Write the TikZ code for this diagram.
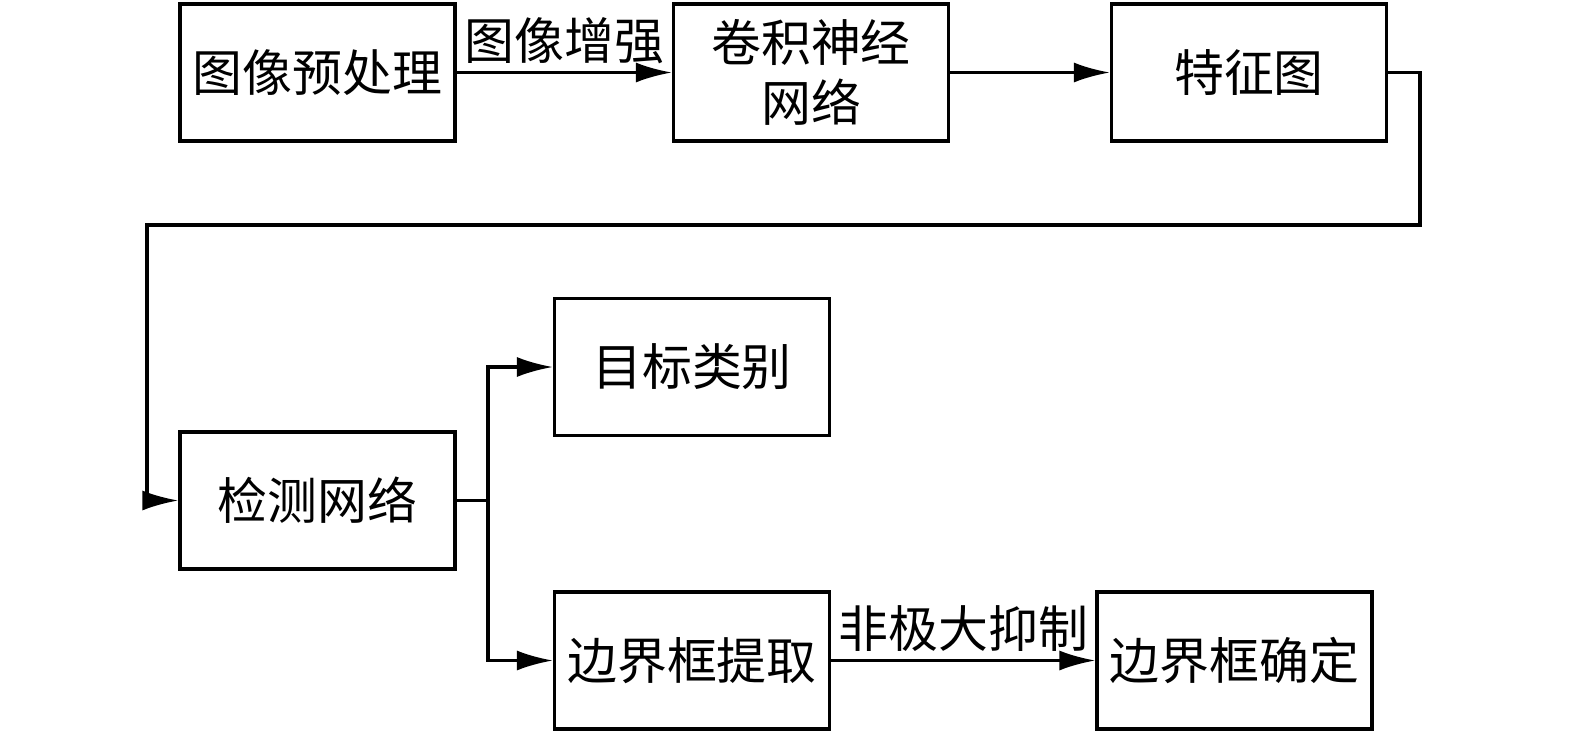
\documentclass[tikz,border=0pt]{standalone}
\usepackage{fontspec}
\setmainfont{Noto Sans CJK SC}
\usetikzlibrary{arrows.meta}
\tikzset{
  stage/.style={draw,line width=0.9pt,minimum width=2.75cm,minimum height=1.37cm,
    align=center,font=\fontsize{14.2}{17}\selectfont,inner sep=0pt},
  flow/.style={line width=0.9pt,-{Latex[length=0.36cm,width=0.2cm]}},
  tag/.style={font=\fontsize{14.2}{17}\selectfont,inner sep=2pt}
}
\begin{document}
\begin{tikzpicture}
                \useasboundingbox (0,0) rectangle (15.75,-7.38);
                %% boxes
                \node[stage] (pre) at (3.175,-0.725) {图像预处理};
                \node[stage] (cnn) at (8.11,-0.725) {卷积神经\\网络};
                \node[stage] (feat) at (12.49,-0.725) {特征图};
                \node[stage] (det) at (3.175,-5.005) {检测网络};
                \node[stage] (cls) at (6.92,-3.67) {目标类别};
                \node[stage] (bbox) at (6.92,-6.605) {边界框提取};
                \node[stage] (nms) at (12.345,-6.605) {边界框确定};
                %% top row
                \draw[flow] (pre) -- node[tag,above] {图像增强} (cnn);
                \draw[flow] (cnn) -- (feat);
                %% loop back
                \coordinate (turn) at (14.2,-2.25);
                \draw[flow] (feat.east) -| (turn) -| (1.47,-5.005) -- (det.west);
                %% split
                \coordinate (split) at (4.88,-5.005);
                \draw[line width=0.9pt] (det.east) -- (split);
                \draw[flow] (split) |- (cls.west);
                \draw[flow] (split) |- (bbox.west);
                %% bottom row
                \draw[flow] (bbox) -- node[tag,above] {非极大抑制} (nms);
            \end{tikzpicture}
\end{document}
